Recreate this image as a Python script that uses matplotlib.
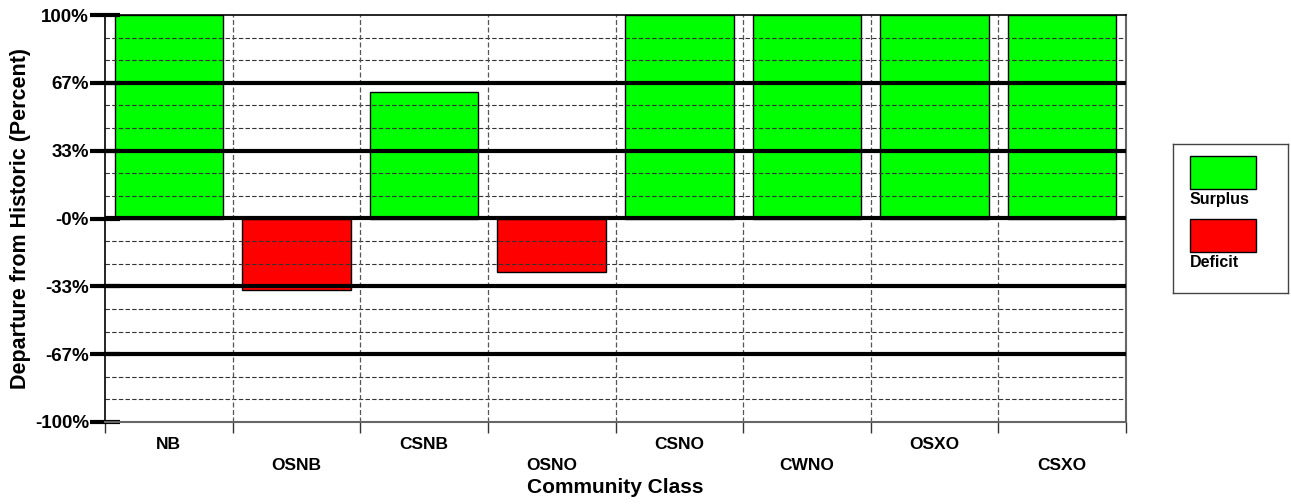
import numpy as np
import matplotlib as mpl
mpl.use('agg')
import matplotlib.pyplot as plt
from matplotlib.patches import Rectangle

## data
classes = ['NB', 'OSNB', 'CSNB', 'OSNO', 'CSNO', 'CWNO', 'OSXO', 'CSXO']
departure = [100, -35.3, 62.3, -26.1, 100, 100, 100, 100]
ytick_vals = [100, 200/3, 100/3, 0, -100/3, -200/3, -100]
ytick_labels = ['100%', '67%', '33%', '-0%', '-33%', '-67%', '-100%']
series_names = ['Surplus', 'Deficit']
series_colors = ['#00ff00', '#ff0000']

plt.rcParams['font.family'] = ['Liberation Sans', 'DejaVu Sans']
plt.rcParams['font.weight'] = 'bold'

fig = plt.figure(figsize=(12.91, 5.04), dpi=100)
ax = fig.add_axes([105/1291, 82/504, 1021/1291, 407/504])

x = np.arange(len(classes))
colors = [series_colors[0] if v >= 0 else series_colors[1] for v in departure]
ax.bar(x, departure, width=0.85, color=colors, edgecolor='black', linewidth=1, zorder=1)

ax.set_xlim(-0.5, len(classes) - 0.5)
ax.set_ylim(-100, 100)

# dashed grid every 1/9 of 100, heavy lines at the labelled values
for v in np.arange(-100, 100.01, 100/9):
    if np.isclose(v, 100) or np.isclose(v, -100):
        continue
    if any(np.isclose(v, t) for t in ytick_vals):
        ax.axhline(v, color='black', linewidth=3, zorder=3)
    else:
        ax.axhline(v, color='#333333', linewidth=0.8, linestyle=(0, (4, 2)), zorder=2)

# vertical dividers between classes
for b in np.arange(0.5, len(classes) - 0.5, 1):
    ax.axvline(b, color='#555555', linewidth=0.9, linestyle=(0, (4, 2)), zorder=2)

ax.set_yticks(ytick_vals)
ax.set_yticklabels(ytick_labels, fontsize=13.5, fontweight='bold')
ax.tick_params(axis='y', direction='inout', length=21, width=3, pad=1)

ax.set_xticks(x)
labels = [c if i % 2 == 0 else '\n' + c for i, c in enumerate(classes)]
ax.set_xticklabels(labels, fontsize=12.5, fontweight='bold', linespacing=1.45)
ax.tick_params(axis='x', length=0, pad=11)
ax.set_xticks(np.arange(-0.5, len(classes), 1), minor=True)
ax.tick_params(axis='x', which='minor', direction='out', length=8, width=1, color='#333333')

for s in ['left', 'top']:
    ax.spines[s].set_color('black')
    ax.spines[s].set_linewidth(1.2)
for s in ['right', 'bottom']:
    ax.spines[s].set_color('#666666')
    ax.spines[s].set_linewidth(1.5)

ax.set_ylabel('Departure from Historic (Percent)', fontsize=15.5, fontweight='bold', labelpad=3)
ax.set_xlabel('Community Class', fontsize=15, fontweight='bold', labelpad=4)

# legend box
lax = fig.add_axes([1173/1291, (504-293)/504, 115/1291, 149/504])
lax.set_xlim(0, 115)
lax.set_ylim(149, 0)
lax.set_xticks([])
lax.set_yticks([])
for sp in lax.spines.values():
    sp.set_color('#444444')
    sp.set_linewidth(1)
for i, (name, col) in enumerate(zip(series_names, series_colors)):
    top = 12 + i * 63
    lax.add_patch(Rectangle((17, top), 66, 33, facecolor=col, edgecolor='black', linewidth=1))
    lax.text(17, top + 36, name, fontsize=11.5, fontweight='bold', va='top', ha='left')

fig.savefig('out.png', dpi=100)
